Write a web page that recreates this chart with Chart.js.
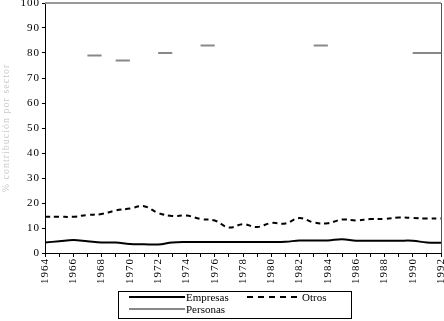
<!DOCTYPE html>
<html>
<head>
<meta charset="utf-8">
<script src="https://cdn.jsdelivr.net/npm/chart.js@4/dist/chart.umd.min.js"></script>
<style>
  html, body { margin: 0; padding: 0; background: #fff; }
  #wrap { position: relative; width: 444px; height: 321px; }
  #legend {
    position: absolute; left: 118px; top: 291px; width: 232px; height: 26px;
    border: 1px solid #000; font-family: "Liberation Serif", "Times New Roman", Times, "DejaVu Serif", serif; font-size: 11px;
  }
  .item { position: absolute; height: 12px; line-height: 12px; }
  .swatch { position: absolute; top: 5px; }
</style>
</head>
<body>
<div id="wrap">
  <canvas id="chart" width="444" height="321"></canvas>
  <div id="legend">
    <div class="item" style="left:10px; top:-1px;">
      <div class="swatch" style="left:0; width:56px; border-top:2px solid #000;"></div>
      <span style="position:absolute; left:57px;">Empresas</span>
    </div>
    <div class="item" style="left:128px; top:-1px;">
      <div class="swatch" style="left:0; width:50px; border-top:2px dashed #000;"></div>
      <span style="position:absolute; left:55px;">Otros</span>
    </div>
    <div class="item" style="left:10px; top:11px;">
      <div class="swatch" style="left:0; width:56px; border-top:2px solid #888;"></div>
      <span style="position:absolute; left:57px;">Personas</span>
    </div>
  </div>
</div>
<script>
// Años (eje X)
const years = [];
for (let y = 1964; y <= 1992; y++) years.push(String(y));

// Series (% contribución)
const empresas = [4.2, 4.7, 5.2, 4.7, 4.2, 4.2, 3.6, 3.5, 3.4, 4.2, 4.4, 4.4, 4.4, 4.4, 4.4,
  4.4, 4.4, 4.5, 5.0, 5.0, 5.0, 5.5, 4.9, 4.9, 4.9, 4.9, 4.9, 4.2, 4.1];
const otros = [14.5, 14.5, 14.5, 15.2, 15.6, 17.0, 17.8, 18.7, 16.0, 14.8, 15.0, 13.6, 13.0, 10.2, 11.5,
  10.4, 12.0, 11.8, 14.0, 12.2, 11.9, 13.4, 13.0, 13.6, 13.6, 14.2, 14.0, 13.8, 13.8];
const personas = [null, null, null, 79, 79, 77, 77, null, 80, 80, null, 83, 83, null, null,
  null, null, null, null, 83, 83, null, null, null, null, null, 80, 80, 80];

const yTicks = [0, 10, 20, 30, 40, 50, 60, 70, 80, 90, 100];

document.addEventListener("DOMContentLoaded", () => {
  const canvas = document.getElementById("chart");
  const ctx = canvas.getContext("2d");

  Chart.defaults.font.family = '"Liberation Serif", "Times New Roman", Times, "DejaVu Serif", serif';
  Chart.defaults.font.size = 11;
  Chart.defaults.color = "#000";

  // espaciado de letras como en el original
  const spacing = {
    id: "spacing",
    beforeDraw(chart) { chart.ctx.letterSpacing = "1px"; },
  };

  // Marco superior y derecho del área de trazado
  const frame = {
    id: "frame",
    afterDatasetsDraw(chart) {
      const a = chart.chartArea;
      const c = chart.ctx;
      c.save();
      c.strokeStyle = "#999";
      c.lineWidth = 2;
      c.beginPath();
      c.moveTo(a.left, a.top);
      c.lineTo(a.right, a.top);
      c.stroke();
      c.strokeStyle = "#555";
      c.lineWidth = 1;
      c.beginPath();
      c.moveTo(a.right + 0.5, a.top);
      c.lineTo(a.right + 0.5, a.bottom);
      c.stroke();
      c.restore();
    },
  };

  new Chart(ctx, {
    type: "line",
    data: {
      labels: years,
      datasets: [
        {
          label: "Empresas",
          data: empresas,
          borderColor: "#000",
          borderWidth: 2,
          tension: 0.4,
          pointRadius: 0,
        },
        {
          label: "Otros",
          data: otros,
          borderColor: "#000",
          borderWidth: 2,
          borderDash: [5, 4],
          tension: 0.4,
          pointRadius: 0,
        },
        {
          label: "Personas",
          data: personas,
          borderColor: "#888",
          borderWidth: 2,
          tension: 0,
          pointRadius: 0,
          spanGaps: false,
          // sólo se trazan los tramos de igual valor
          segment: {
            borderColor: (s) => (s.p0.parsed.y === s.p1.parsed.y ? "#888" : "rgba(0,0,0,0)"),
          },
        },
      ],
    },
    options: {
      responsive: false,
      animation: false,
      layout: { padding: { top: 3, right: 3, bottom: 38, left: 0 } },
      plugins: {
        legend: { display: false },
        tooltip: { enabled: false },
      },
      scales: {
        x: {
          type: "category",
          offset: false,
          afterFit: (s) => { s.height = 30; s.paddingRight = 0; },
          grid: { drawOnChartArea: false, tickLength: 4, color: "#000" },
          border: { color: "#000", width: 1 },
          ticks: {
            autoSkip: false,
            maxRotation: 90,
            minRotation: 90,
            padding: 1,
            callback: function (v, i) {
              return i % 2 === 0 ? this.getLabelForValue(v) : "";
            },
          },
        },
        y: {
          min: 0,
          max: 100,
          afterFit: (s) => { s.width = 45; s.paddingTop = 0; },
          afterBuildTicks: (s) => { s.ticks = yTicks.map((v) => ({ value: v })); },
          grid: { drawOnChartArea: false, tickLength: 3, color: "#000" },
          border: { color: "#000", width: 1 },
          ticks: { padding: 2 },
          title: {
            display: true,
            text: "% contribución por sector",
            color: "#c8c8c8",
            font: { size: 10 },
            padding: { top: 0, bottom: 0 },
          },
        },
      },
    },
    plugins: [spacing, frame],
  });
});
</script>
</body>
</html>
